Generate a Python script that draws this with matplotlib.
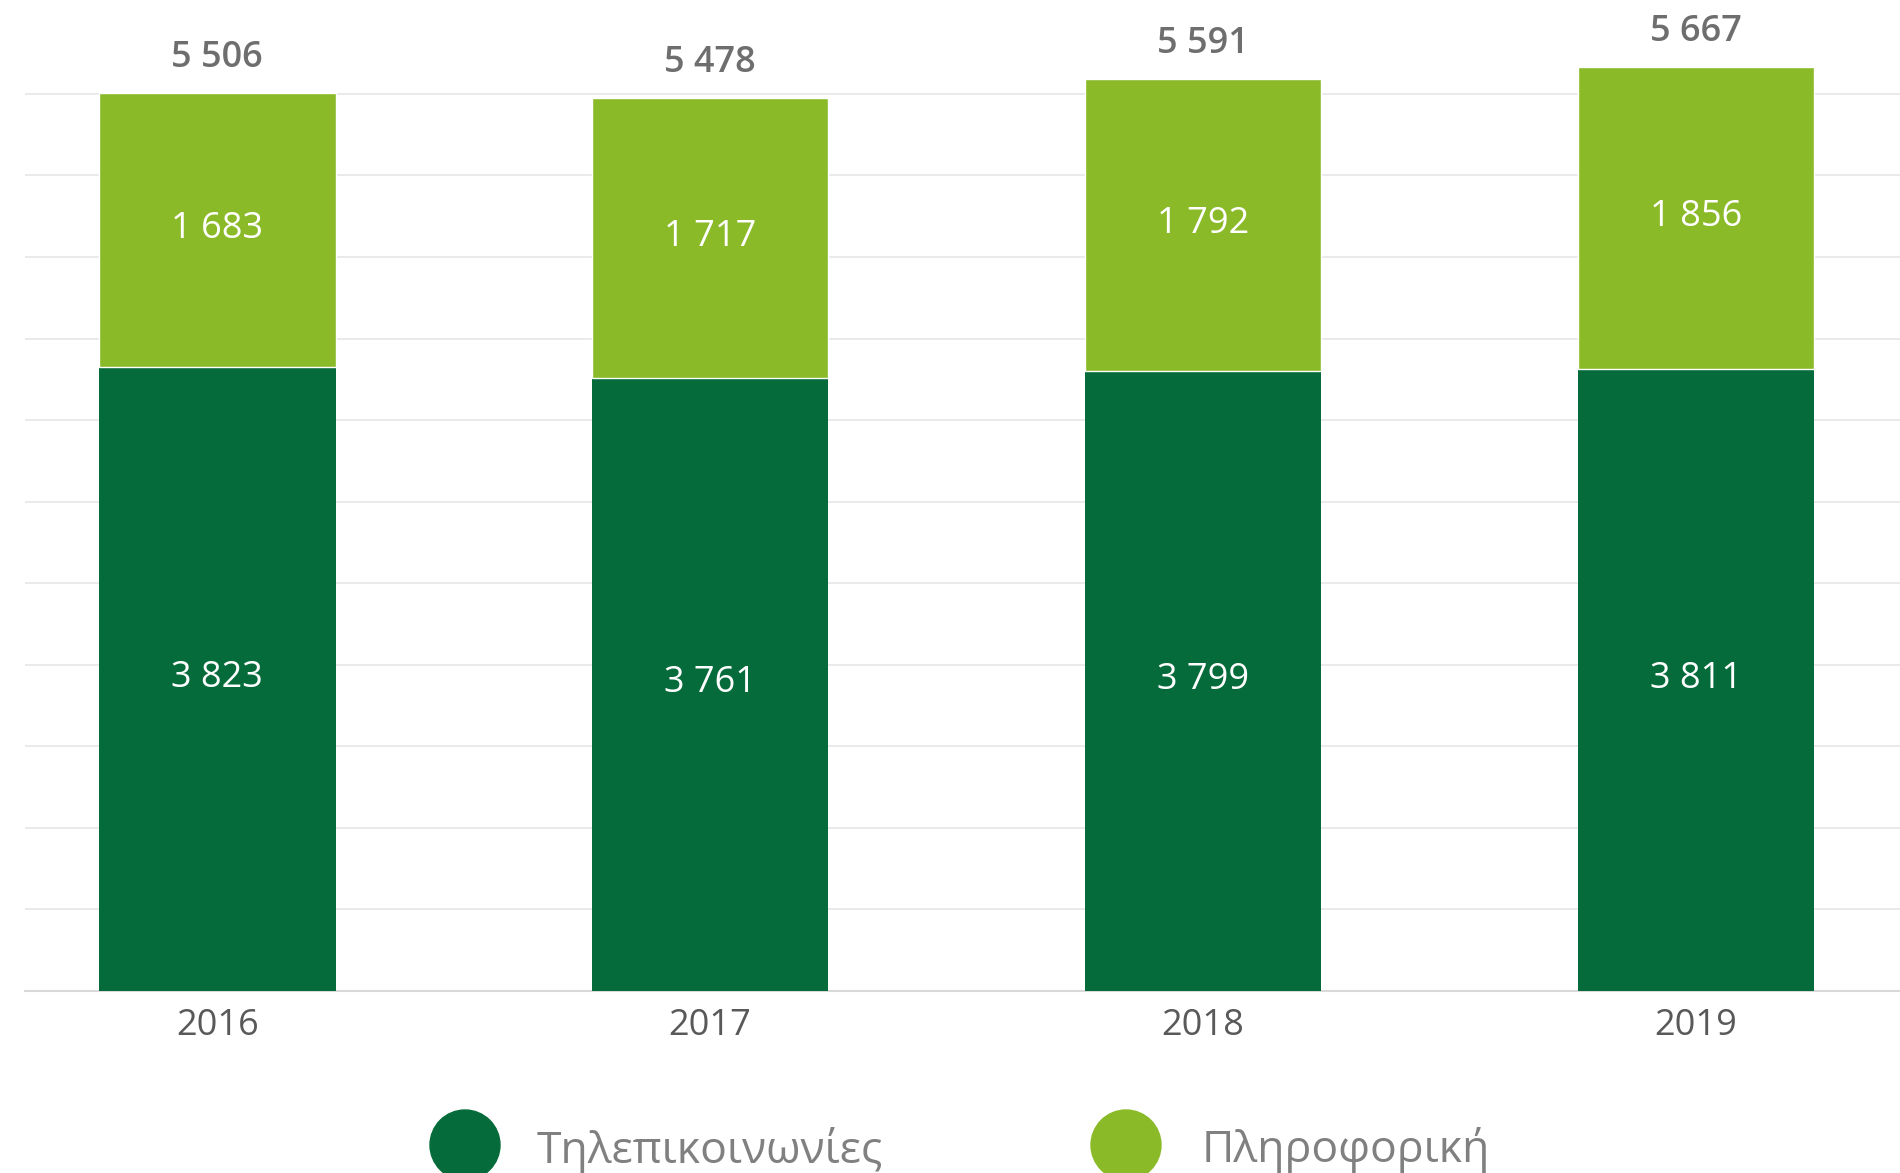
import matplotlib.pyplot as plt
from matplotlib.patches import Ellipse

years = ['2016', '2017', '2018', '2019']
telecom = [3823, 3761, 3799, 3811]
it = [1683, 1717, 1792, 1856]
series_names = ['Τηλεπικοινωνίες', 'Πληροφορική']

dark_green = '#066b3a'
light_green = '#8aba28'

plt.rcParams['font.family'] = ['Open Sans', 'DejaVu Sans']


def fmt(v):
    return '{:,}'.format(v).replace(',', ' ')


fig = plt.figure(figsize=(19, 11.73), dpi=100)
ax = fig.add_axes([25 / 1900, 1 - 991 / 1173, 1 - 25 / 1900, (991 - 12.4) / 1173])

x = list(range(len(years)))
totals = [a + b for a, b in zip(telecom, it)]

ax.bar(x, telecom, width=0.48, color=dark_green, zorder=3)
ax.bar(x, it, width=0.48, bottom=telecom, color=light_green, zorder=3,
       edgecolor='white', linewidth=1.0)

for i in x:
    ax.text(i, telecom[i] / 2 + 5, fmt(telecom[i]), ha='center', va='center',
            color='white', fontsize=26, zorder=4)
    ax.text(i, telecom[i] + it[i] / 2 + 5, fmt(it[i]), ha='center', va='center',
            color='white', fontsize=26, zorder=4)
    ax.annotate(fmt(totals[i]), (i, totals[i]), xytext=(0, 25), textcoords='offset points',
                ha='center', va='center', color='#6e6e6e', fontsize=26,
                fontweight='semibold')

ax.set_xlim(-0.39, 3.414)
ax.set_ylim(0, 6000)
ax.set_yticks(range(0, 6000, 500))
ax.grid(axis='y', color='#e6e6e6', linewidth=1.2, zorder=0)
ax.set_yticklabels([])
ax.tick_params(axis='y', length=0)
ax.set_xticks(x)
ax.set_xticklabels(years, fontsize=26, color='#595959')
ax.tick_params(axis='x', length=0, pad=12)
for s in ['top', 'right', 'left']:
    ax.spines[s].set_visible(False)
ax.spines['bottom'].set_color('#d9d9d9')
ax.spines['bottom'].set_linewidth(1.5)

# legend at the bottom, cut by the figure edge
leg_items = [(465, dark_green, 537, series_names[0]),
             (1126, light_green, 1202, series_names[1])]
for cx, col, tx, name in leg_items:
    fig.add_artist(Ellipse((cx / 1900, 1 - 1145 / 1173), 70 / 1900, 70 / 1173,
                           color=col, transform=fig.transFigure))
    fig.text(tx / 1900, 1 - 1150 / 1173, name, fontsize=32, color='#808080',
             va='center', ha='left')

fig.savefig('out.png', dpi=100, facecolor='white')
